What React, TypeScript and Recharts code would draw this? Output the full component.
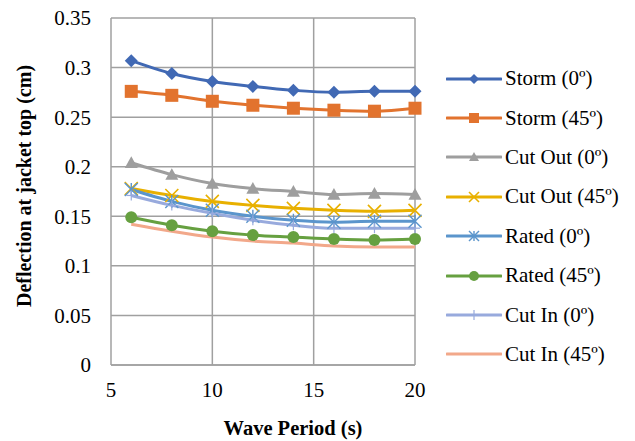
import React from 'react';
import { LineChart, Line, XAxis, YAxis, CartesianGrid } from 'recharts';

const periods = [6, 8, 10, 12, 14, 16, 18, 20];

const storm0 = [0.307, 0.294, 0.286, 0.281, 0.277, 0.275, 0.276, 0.276];
const storm45 = [0.276, 0.272, 0.266, 0.262, 0.259, 0.257, 0.256, 0.259];
const cutOut0 = [0.204, 0.192, 0.183, 0.178, 0.175, 0.172, 0.173, 0.172];
const cutOut45 = [0.178, 0.171, 0.165, 0.161, 0.158, 0.156, 0.155, 0.156];
const rated0 = [0.177, 0.165, 0.156, 0.150, 0.146, 0.144, 0.145, 0.145];
const rated45 = [0.149, 0.141, 0.135, 0.131, 0.129, 0.127, 0.126, 0.127];
const cutIn0 = [0.171, 0.161, 0.153, 0.146, 0.141, 0.138, 0.138, 0.138];
const cutIn45 = [0.142, 0.135, 0.129, 0.125, 0.123, 0.120, 0.119, 0.119];

const xTicks = [5, 10, 15, 20];
const yTicks = [0, 0.05, 0.1, 0.15, 0.2, 0.25, 0.3, 0.35];

type Marker = 'diamond' | 'square' | 'triangle' | 'x' | 'star' | 'circle' | 'plus' | 'none';

const series: { key: string; name: string; color: string; marker: Marker; values: number[] }[] = [
  { key: 'storm0', name: 'Storm (0º)', color: '#4169B4', marker: 'diamond', values: storm0 },
  { key: 'storm45', name: 'Storm (45º)', color: '#E2732E', marker: 'square', values: storm45 },
  { key: 'cutOut0', name: 'Cut Out (0º)', color: '#9E9E9E', marker: 'triangle', values: cutOut0 },
  { key: 'cutOut45', name: 'Cut Out (45º)', color: '#E8B000', marker: 'x', values: cutOut45 },
  { key: 'rated0', name: 'Rated (0º)', color: '#5B95CC', marker: 'star', values: rated0 },
  { key: 'rated45', name: 'Rated (45º)', color: '#66A040', marker: 'circle', values: rated45 },
  { key: 'cutIn0', name: 'Cut In (0º)', color: '#98AADD', marker: 'plus', values: cutIn0 },
  { key: 'cutIn45', name: 'Cut In (45º)', color: '#F2A88A', marker: 'none', values: cutIn45 },
];

const data = periods.map((p, i) => {
  const row: Record<string, number> = { period: p };
  series.forEach((s) => {
    row[s.key] = s.values[i];
  });
  return row;
});

const serif = '"Liberation Serif", "Times New Roman", serif';

function markerShape(kind: Marker, cx: number, cy: number, r: number, color: string, key?: string) {
  switch (kind) {
    case 'diamond':
      return <polygon key={key} points={`${cx},${cy - r} ${cx + r},${cy} ${cx},${cy + r} ${cx - r},${cy}`} fill={color} />;
    case 'square':
      return <rect key={key} x={cx - r} y={cy - r} width={2 * r} height={2 * r} fill={color} />;
    case 'triangle':
      return <polygon key={key} points={`${cx},${cy - r} ${cx + r},${cy + r * 0.8} ${cx - r},${cy + r * 0.8}`} fill={color} />;
    case 'circle':
      return <circle key={key} cx={cx} cy={cy} r={r} fill={color} />;
    case 'x':
      return (
        <g key={key} stroke={color} strokeWidth={1.6}>
          <line x1={cx - r} y1={cy - r} x2={cx + r} y2={cy + r} />
          <line x1={cx - r} y1={cy + r} x2={cx + r} y2={cy - r} />
        </g>
      );
    case 'star':
      return (
        <g key={key} stroke={color} strokeWidth={1.4}>
          <line x1={cx - r} y1={cy - r} x2={cx + r} y2={cy + r} />
          <line x1={cx - r} y1={cy + r} x2={cx + r} y2={cy - r} />
          <line x1={cx} y1={cy - r} x2={cx} y2={cy + r} />
        </g>
      );
    case 'plus':
      return (
        <g key={key} stroke={color} strokeWidth={1.2}>
          <line x1={cx - r} y1={cy} x2={cx + r} y2={cy} />
          <line x1={cx} y1={cy - r} x2={cx} y2={cy + r} />
        </g>
      );
    default:
      return <g key={key} />;
  }
}

const dotRenderer = (kind: Marker, color: string, r: number) => (props: any) =>
  markerShape(kind, props.cx, props.cy, r, color, `${kind}-${props.index}`);

function SideLegend() {
  return (
    <div style={{ position: 'absolute', left: 446, top: 59, fontFamily: serif, fontSize: 21 }}>
      {series.map((s) => (
        <div key={s.key} style={{ display: 'flex', alignItems: 'center', height: 39.4 }}>
          <svg width={56} height={20} style={{ marginRight: 3 }}>
            <line x1={1} y1={10} x2={55} y2={10} stroke={s.color} strokeWidth={3} strokeLinecap="round" />
            {markerShape(s.marker, 28, 10, 5, s.color)}
          </svg>
          <span style={{ whiteSpace: 'nowrap' }}>{s.name}</span>
        </div>
      ))}
    </div>
  );
}

const YTitle = () => (
  <text
    x={24}
    y={186}
    transform="rotate(-90, 24, 186)"
    textAnchor="middle"
    dominantBaseline="central"
    fontFamily={serif}
    fontSize={20}
    fontWeight={700}
    fill="#000"
  >
    Deflection at jacket top (cm)
  </text>
);

export default function App() {
  return (
    <div style={{ position: 'fixed', left: 0, top: 0, width: 635, height: 441, background: '#fff' }}>
      <LineChart width={635} height={441} data={data} margin={{ top: 18, right: 220, bottom: 0, left: 0 }}>
        <CartesianGrid stroke="#A0A0A0" strokeWidth={1.5} verticalValues={[10, 15, 20]} />
        <XAxis
          dataKey="period"
          type="number"
          domain={[5, 20]}
          ticks={xTicks}
          tickLine={false}
          axisLine={{ stroke: '#A0A0A0', strokeWidth: 1.5 }}
          tick={{ fontSize: 21, fill: '#000', fontFamily: serif, dy: 9 }}
          height={76}
          label={{ value: 'Wave Period (s)', position: 'insideBottom', offset: 6, fontSize: 20.5, fontWeight: 700, fill: '#000', fontFamily: serif, dx: 30 }}
        />
        <YAxis
          type="number"
          domain={[0, 0.35]}
          ticks={yTicks}
          tickLine={false}
          axisLine={{ stroke: '#A0A0A0', strokeWidth: 1.5 }}
          tick={{ fontSize: 21, fill: '#000', fontFamily: serif, dx: -12 }}
          tickFormatter={(v: number) => String(Number(v.toFixed(2)))}
          width={111}
          label={<YTitle />}
        />
        {series.map((s) => (
          <Line
            key={s.key}
            type="monotone"
            dataKey={s.key}
            name={s.name}
            stroke={s.color}
            strokeWidth={3}
            dot={dotRenderer(s.marker, s.color, s.marker === 'circle' ? 6 : s.marker === 'plus' ? 5 : 6.5)}
            activeDot={false}
            isAnimationActive={false}
          />
        ))}
      </LineChart>
      <SideLegend />
    </div>
  );
}
